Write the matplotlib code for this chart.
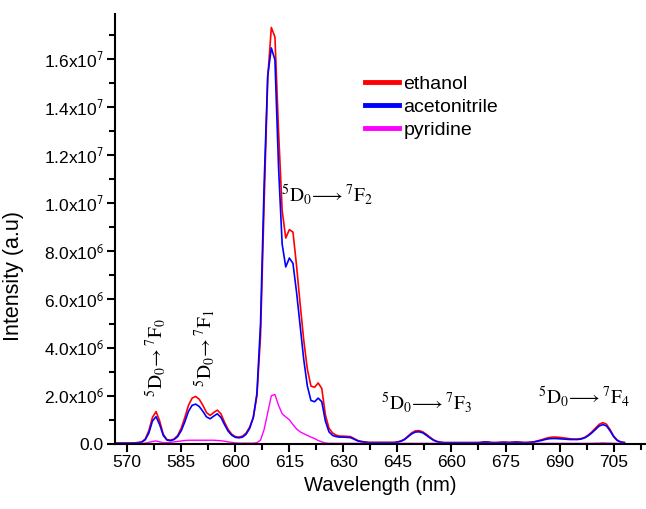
import numpy as np
import matplotlib
matplotlib.use('Agg')
import matplotlib.pyplot as plt
from matplotlib.ticker import MultipleLocator, FixedLocator, FixedFormatter

plt.rcParams['font.family'] = ['Liberation Sans', 'DejaVu Sans']
plt.rcParams['mathtext.fontset'] = 'stix'

# emission spectra, 1 nm steps, intensity in units of 1e6
wl = np.arange(567, 709)

ethanol = [
    0.03, 0.03, 0.03, 0.03, 0.03, 0.04, 0.05, 0.08, 0.20, 0.55,   # 567-576
    1.10, 1.34, 0.95, 0.40, 0.18, 0.15, 0.20, 0.35, 0.65, 1.10,   # 577-586
    1.60, 1.90, 1.97, 1.85, 1.60, 1.30, 1.18, 1.30, 1.40, 1.25,   # 587-596
    0.90, 0.60, 0.40, 0.30, 0.28, 0.32, 0.45, 0.70, 1.10, 2.00,   # 597-606
    4.50, 10.0, 15.2, 17.3, 16.9, 13.0, 9.70, 8.55, 8.90, 8.80,   # 607-616
    7.40, 5.80, 4.30, 3.10, 2.40, 2.35, 2.53, 2.30, 1.20, 0.65,   # 617-626
    0.45, 0.36, 0.32, 0.32, 0.31, 0.30, 0.22, 0.14, 0.10, 0.08,   # 627-636
    0.06, 0.06, 0.06, 0.06, 0.06, 0.06, 0.06, 0.06, 0.08, 0.12,   # 637-646
    0.20, 0.33, 0.46, 0.54, 0.55, 0.50, 0.40, 0.28, 0.17, 0.10,   # 647-656
    0.07, 0.05, 0.05, 0.05, 0.05, 0.05, 0.05, 0.05, 0.05, 0.05,   # 657-666
    0.05, 0.06, 0.08, 0.08, 0.06, 0.05, 0.06, 0.07, 0.07, 0.06,   # 667-676
    0.07, 0.08, 0.07, 0.06, 0.06, 0.07, 0.09, 0.13, 0.17, 0.22,   # 677-686
    0.26, 0.28, 0.28, 0.27, 0.25, 0.23, 0.21, 0.20, 0.20, 0.22,   # 687-696
    0.27, 0.37, 0.50, 0.66, 0.81, 0.88, 0.82, 0.60, 0.33, 0.16,   # 697-706
    0.08, 0.06,                                                   # 707-708
]

acetonitrile = [
    0.03, 0.03, 0.03, 0.03, 0.03, 0.04, 0.05, 0.07, 0.17, 0.45,
    0.95, 1.13, 0.80, 0.35, 0.16, 0.13, 0.18, 0.30, 0.55, 0.92,
    1.35, 1.60, 1.65, 1.55, 1.35, 1.12, 1.04, 1.15, 1.25, 1.10,
    0.80, 0.53, 0.36, 0.27, 0.25, 0.28, 0.40, 0.65, 1.10, 2.10,
    5.00, 10.8, 15.3, 16.45, 15.95, 11.5, 8.30, 7.35, 7.72, 7.50,
    6.30, 4.90, 3.50, 2.40, 1.80, 1.75, 1.90, 1.75, 0.95, 0.50,
    0.35, 0.30, 0.28, 0.28, 0.27, 0.26, 0.19, 0.12, 0.09, 0.07,
    0.05, 0.05, 0.05, 0.05, 0.05, 0.05, 0.05, 0.05, 0.07, 0.11,
    0.18, 0.30, 0.42, 0.49, 0.50, 0.46, 0.36, 0.25, 0.15, 0.09,
    0.06, 0.05, 0.05, 0.05, 0.05, 0.05, 0.05, 0.05, 0.05, 0.05,
    0.05, 0.05, 0.07, 0.07, 0.05, 0.05, 0.05, 0.06, 0.06, 0.05,
    0.06, 0.07, 0.06, 0.05, 0.05, 0.06, 0.08, 0.11, 0.14, 0.18,
    0.21, 0.22, 0.22, 0.21, 0.20, 0.19, 0.18, 0.18, 0.18, 0.20,
    0.25, 0.34, 0.46, 0.60, 0.74, 0.80, 0.75, 0.55, 0.30, 0.14,
    0.07, 0.05,
]

pyridine = [
    0.02, 0.02, 0.02, 0.02, 0.02, 0.02, 0.02, 0.02, 0.03, 0.06,
    0.10, 0.12, 0.08, 0.05, 0.05, 0.06, 0.08, 0.10, 0.12, 0.14,
    0.15, 0.15, 0.15, 0.15, 0.15, 0.15, 0.15, 0.15, 0.14, 0.13,
    0.11, 0.08, 0.06, 0.04, 0.03, 0.03, 0.03, 0.03, 0.03, 0.05,
    0.15, 0.60, 1.30, 2.00, 2.05, 1.60, 1.25, 1.12, 1.00, 0.80,
    0.62, 0.50, 0.42, 0.35, 0.28, 0.22, 0.14, 0.08, 0.04, 0.02,
    0.02, 0.02, 0.02, 0.02, 0.02, 0.02, 0.02, 0.02, 0.02, 0.02,
    0.02, 0.02, 0.02, 0.02, 0.02, 0.02, 0.02, 0.02, 0.02, 0.02,
    0.02, 0.02, 0.02, 0.02, 0.02, 0.02, 0.02, 0.02, 0.02, 0.02,
    0.02, 0.02, 0.02, 0.02, 0.02, 0.02, 0.02, 0.02, 0.02, 0.02,
    0.02, 0.02, 0.02, 0.02, 0.02, 0.02, 0.02, 0.02, 0.02, 0.02,
    0.02, 0.02, 0.02, 0.02, 0.02, 0.02, 0.02, 0.02, 0.02, 0.02,
    0.02, 0.02, 0.02, 0.02, 0.02, 0.02, 0.02, 0.02, 0.02, 0.02,
    0.02, 0.02, 0.02, 0.03, 0.03, 0.04, 0.03, 0.03, 0.02, 0.02,
    0.02, 0.02,
]

series = [('ethanol', ethanol, '#ff0000', 1.2),
          ('acetonitrile', acetonitrile, '#0000ff', 1.2),
          ('pyridine', pyridine, '#ff00ff', 1.0)]

y_ticks = [0, 2e6, 4e6, 6e6, 8e6, 1e7, 1.2e7, 1.4e7, 1.6e7]
y_labels = ['0.0', '2.0x10$^{\\mathsf{6}}$', '4.0x10$^{\\mathsf{6}}$',
            '6.0x10$^{\\mathsf{6}}$', '8.0x10$^{\\mathsf{6}}$',
            '1.0x10$^{\\mathsf{7}}$', '1.2x10$^{\\mathsf{7}}$',
            '1.4x10$^{\\mathsf{7}}$', '1.6x10$^{\\mathsf{7}}$']

# transition labels: (text, x, y, rotation)
transitions = [
    (r'$^{5}\mathrm{D}_{0}\!\rightarrow{}^{7}\mathrm{F}_{0}$', 577.8, 3.6e6, 90),
    (r'$^{5}\mathrm{D}_{0}\!\rightarrow{}^{7}\mathrm{F}_{1}$', 591.5, 4.0e6, 90),
    (r'$^{5}\mathrm{D}_{0}\!\longrightarrow{}^{7}\mathrm{F}_{2}$', 625.4, 1.035e7, 0),
    (r'$^{5}\mathrm{D}_{0}\!\longrightarrow{}^{7}\mathrm{F}_{3}$', 653.1, 1.7e6, 0),
    (r'$^{5}\mathrm{D}_{0}\!\longrightarrow{}^{7}\mathrm{F}_{4}$', 696.8, 1.95e6, 0),
]

fig = plt.figure(figsize=(6.46, 5.09), dpi=100)
ax = fig.add_axes([0.178, 0.128, 0.822, 0.845])

for name, vals, col, lw in series:
    ax.plot(wl, np.array(vals) * 1e6, color=col, lw=lw, label=name)

ax.set_xlim(566.6, 714)
ax.set_ylim(0, 1.787e7)

ax.xaxis.set_major_locator(MultipleLocator(15))
ax.xaxis.set_minor_locator(MultipleLocator(7.5))
ax.yaxis.set_major_locator(FixedLocator(y_ticks))
ax.yaxis.set_major_formatter(FixedFormatter(y_labels))
ax.yaxis.set_minor_locator(MultipleLocator(1e6))

for side in ('top', 'right'):
    ax.spines[side].set_visible(False)
for side in ('left', 'bottom'):
    ax.spines[side].set_linewidth(1.5)
ax.tick_params(which='major', direction='out', length=6, width=1.5,
               labelsize=12.5, pad=2)
ax.tick_params(which='minor', direction='out', length=4, width=1.5)

ax.set_xlabel('Wavelength (nm)', fontsize=14.5, labelpad=4)
ax.set_ylabel('Intensity (a.u)', fontsize=15.5)
ax.yaxis.set_label_coords(-0.172, 0.39)

for txt, x, y, rot in transitions:
    ax.text(x, y, txt, fontsize=14, rotation=rot, ha='center', va='center')

leg = ax.legend(loc='upper left', bbox_to_anchor=(0.457, 0.875), frameon=False,
                fontsize=14, handlelength=1.75, handletextpad=0.2,
                labelspacing=0.28, borderaxespad=0)
for line in leg.get_lines():
    line.set_linewidth(3.5)

fig.savefig('out.png', dpi=100)
